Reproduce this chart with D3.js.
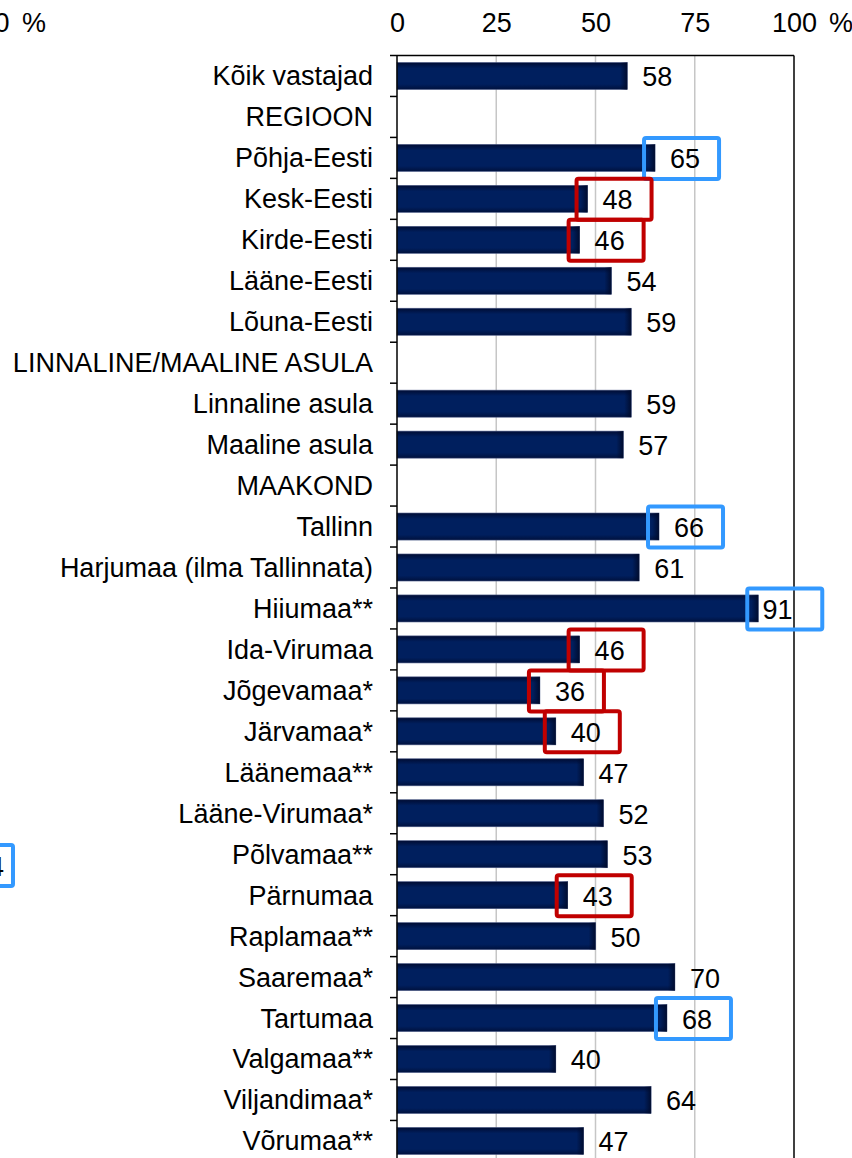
<!DOCTYPE html>
<html>
<head>
<meta charset="utf-8">
<script src="https://cdn.jsdelivr.net/npm/d3@7"></script>
<style>
  body { margin: 0; background: #fff; }
  svg { display: block; font-family: "Liberation Sans", Arial, sans-serif; }
</style>
</head>
<body>
<div id="chart"></div>
<script>
// Category labels (rows without a value are section headers)
const categories = [
  "Kõik vastajad", "REGIOON", "Põhja-Eesti", "Kesk-Eesti", "Kirde-Eesti",
  "Lääne-Eesti", "Lõuna-Eesti", "LINNALINE/MAALINE ASULA", "Linnaline asula",
  "Maaline asula", "MAAKOND", "Tallinn", "Harjumaa (ilma Tallinnata)", "Hiiumaa**",
  "Ida-Virumaa", "Jõgevamaa*", "Järvamaa*", "Läänemaa**", "Lääne-Virumaa*",
  "Põlvamaa**", "Pärnumaa", "Raplamaa**", "Saaremaa*", "Tartumaa", "Valgamaa**",
  "Viljandimaa*", "Võrumaa**"
];
// Share in %, null for header rows
const values = [
  58, null, 65, 48, 46, 54, 59, null, 59, 57, null,
  66, 61, 91, 46, 36, 40, 47, 52, 53, 43, 50, 70, 68, 40, 64, 47
];
// Top axis tick values
const tickValues = [0, 25, 50, 75, 100];
// Highlighted labels: above average (blue) and below (red)
const highBoxes = ["Põhja-Eesti", "Tallinn", "Hiiumaa**", "Tartumaa"];
const lowBoxes = ["Kesk-Eesti", "Kirde-Eesti", "Ida-Virumaa", "Jõgevamaa*", "Järvamaa*", "Pärnumaa"];

const width = 852, height = 1158;
const plotLeft = 397, plotRight = 794, plotTop = 55.5;
const step = 40.96;
const plotBottom = plotTop + step * categories.length;
const fontSize = 27;

const data = categories.map((c, i) => ({ cat: c, value: values[i] }));

const svg = d3.select("#chart").append("svg")
    .attr("width", width)
    .attr("height", height);

// gradients for the bars (darker edges like the original)
const defs = svg.append("defs");
const vGrad = defs.append("linearGradient").attr("id", "barV")
    .attr("x1", 0).attr("y1", 0).attr("x2", 0).attr("y2", 1);
vGrad.append("stop").attr("offset", "0%").attr("stop-color", "#000c33");
vGrad.append("stop").attr("offset", "22%").attr("stop-color", "#001f5e");
vGrad.append("stop").attr("offset", "80%").attr("stop-color", "#001f5e");
vGrad.append("stop").attr("offset", "100%").attr("stop-color", "#00113d");
const hGrad = defs.append("linearGradient").attr("id", "barEnd")
    .attr("x1", 0).attr("y1", 0).attr("x2", 1).attr("y2", 0);
hGrad.append("stop").attr("offset", "0%").attr("stop-color", "#000a2a").attr("stop-opacity", 0);
hGrad.append("stop").attr("offset", "100%").attr("stop-color", "#000a2a").attr("stop-opacity", 0.9);

const x = d3.scaleLinear().domain([0, 100]).range([plotLeft, plotRight]);
const y = d3.scaleBand().domain(categories)
    .range([plotTop, plotBottom])
    .paddingInner(0.34)
    .paddingOuter(0.17);

// gridlines
svg.append("g")
    .selectAll("line")
    .data(tickValues.filter(t => t > 0 && t < 100))
    .enter().append("line")
        .attr("x1", d => x(d)).attr("x2", d => x(d))
        .attr("y1", plotTop).attr("y2", plotBottom)
        .attr("stroke", "#c6c6c6")
        .attr("stroke-width", 1.5);

// top axis labels
const axisTop = svg.append("g")
    .attr("transform", `translate(0, 22.5)`)
    .call(d3.axisTop(x).tickValues(tickValues).tickSize(0).tickPadding(0));
axisTop.select(".domain").remove();
axisTop.selectAll("text")
    .attr("dy", "0.35em")
    .attr("font-size", fontSize)
    .attr("font-family", "Liberation Sans, Arial, sans-serif")
    .attr("fill", "#000");
svg.append("text")
    .attr("x", x(100) + 35).attr("y", 22.5).attr("dy", "0.35em")
    .attr("text-anchor", "start").attr("font-size", fontSize)
    .text("%");

// bars
const rows = data.filter(d => d.value !== null);
const bars = svg.append("g").selectAll("g")
    .data(rows)
    .enter().append("g");
bars.append("rect")
    .attr("x", x(0))
    .attr("y", d => y(d.cat))
    .attr("width", d => x(d.value) - x(0))
    .attr("height", y.bandwidth())
    .attr("fill", "url(#barV)")
    .attr("stroke", "#4b5b88")
    .attr("stroke-width", 0.6);
bars.append("rect")
    .attr("x", d => x(d.value) - 7)
    .attr("y", d => y(d.cat))
    .attr("width", 7)
    .attr("height", y.bandwidth())
    .attr("fill", "url(#barEnd)");

// frame: left axis, top and right border
svg.append("line")
    .attr("x1", plotLeft).attr("x2", plotRight)
    .attr("y1", plotTop).attr("y2", plotTop)
    .attr("stroke", "#000").attr("stroke-width", 1.5);
svg.append("line")
    .attr("x1", plotRight).attr("x2", plotRight)
    .attr("y1", plotTop).attr("y2", plotBottom)
    .attr("stroke", "#000").attr("stroke-width", 1.5);
svg.append("line")
    .attr("x1", plotLeft).attr("x2", plotLeft)
    .attr("y1", plotTop).attr("y2", plotBottom)
    .attr("stroke", "#000").attr("stroke-width", 1.5);
svg.append("g").selectAll("line")
    .data(d3.range(categories.length + 1))
    .enter().append("line")
        .attr("x1", plotLeft - 7).attr("x2", plotLeft)
        .attr("y1", i => plotTop + i * step).attr("y2", i => plotTop + i * step)
        .attr("stroke", "#000").attr("stroke-width", 1.5);

// category labels
svg.append("g").selectAll("text")
    .data(data)
    .enter().append("text")
        .attr("x", 373)
        .attr("y", d => y(d.cat) + y.bandwidth() / 2)
        .attr("dy", "0.35em")
        .attr("text-anchor", "end")
        .attr("font-size", fontSize)
        .attr("fill", "#000")
        .text(d => d.cat);

// value labels (kept inside the plot area like the original)
const labels = svg.append("g").selectAll("text")
    .data(rows)
    .enter().append("text")
        .attr("y", d => y(d.cat) + y.bandwidth() / 2 + 1)
        .attr("dy", "0.35em")
        .attr("font-size", fontSize)
        .attr("fill", "#000")
        .text(d => d.value);
labels.each(function(d) {
    const w = this.getComputedTextLength();
    d3.select(this).attr("x", Math.min(x(d.value) + 15, plotRight - w - 1.5));
});

// highlight boxes
const boxes = rows.filter(d => highBoxes.includes(d.cat) || lowBoxes.includes(d.cat));
svg.append("g").selectAll("rect")
    .data(boxes)
    .enter().append("rect")
        .attr("x", d => x(d.value) - 11)
        .attr("y", d => y(d.cat) + y.bandwidth() / 2 - 20)
        .attr("width", 75)
        .attr("height", 41)
        .attr("rx", 2)
        .attr("fill", "none")
        .attr("stroke", d => highBoxes.includes(d.cat) ? "#3399ff" : "#c00000")
        .attr("stroke-width", 4);

// edge of the neighbouring panel (cut off at the left)
svg.append("text")
    .attr("x", -13).attr("y", 22.5).attr("dy", "0.35em")
    .attr("text-anchor", "middle").attr("font-size", fontSize)
    .text("100");
svg.append("text")
    .attr("x", 22).attr("y", 22.5).attr("dy", "0.35em")
    .attr("font-size", fontSize)
    .text("%");
svg.append("rect")
    .attr("x", -60).attr("y", 845)
    .attr("width", 73).attr("height", 41)
    .attr("rx", 2)
    .attr("fill", "none")
    .attr("stroke", "#3399ff")
    .attr("stroke-width", 4);
svg.append("text")
    .attr("x", 4).attr("y", 867).attr("dy", "0.35em")
    .attr("text-anchor", "end").attr("font-size", fontSize)
    .text("4");
</script>
</body>
</html>
